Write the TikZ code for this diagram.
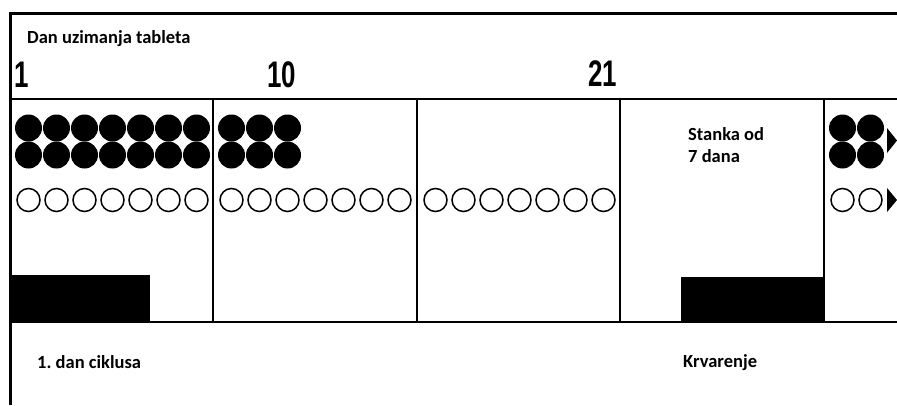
\documentclass[tikz,border=0pt]{standalone}
\usepackage{fontspec}
\setmainfont{Carlito}
\newfontfamily\digitfont{Liberation Sans}
\usetikzlibrary{positioning}
\frenchspacing
\tikzset{
  rule/.style={line width=2pt},
  frame/.style={line width=3pt},
  pill/.style={fill=black},
  openpill/.style={draw=black, line width=1.5pt, fill=white},
  caption/.style={font=\bfseries\fontsize{18.5}{22}\selectfont, anchor=base west, inner sep=0pt},
  daynum/.style={font=\digitfont\bfseries\fontsize{37}{40}\selectfont, anchor=base west, inner sep=0pt, xscale=0.7},
}

\begin{document}
\begin{tikzpicture}[x=1pt,y=-1pt]
  \useasboundingbox (0,0) rectangle (897,405);
  % frame and rows
  \draw[frame] (897,13) -- (10,13) -- (10,405);
  \draw[rule] (10,99) -- (897,99);
  \draw[rule] (10,322) -- (897,322);
  \foreach \x in {213,417,620,824}
    \draw[rule] (\x,99) -- (\x,322);
  % bleeding bars
  \fill (10,275) rectangle (150,322);
  \fill (681,277) rectangle (825,322);
  % active pills
  \foreach \s/\n in {10/6, 213/2, 824/1}
    \foreach \k in {0,...,\n} {
      \fill[pill] (\s+18.5+28*\k,128) circle (13.5pt);
      \fill[pill] (\s+18.5+28*\k,155) circle (13.5pt);
    }
  % placebo pills
  \foreach \s/\n in {10/6, 213/6, 417/6, 824/1}
    \foreach \k in {0,...,\n}
      \draw[openpill] (\s+18.5+28*\k,200) circle (11.5pt);
  % cut-off pills at the edge
  \fill (887,128) -- (897,140.5) -- (887,153) -- cycle;
  \fill (887,188) -- (897,200) -- (887,212) -- cycle;
  % labels
  \node[caption] (title) at (27,43) {Dan uzimanja tableta};
  \node[daynum] (day1) at (14,87) {1};
  \node[daynum] (day10) at (267,87) {10};
  \node[daynum] (day21) at (588,86) {21};
  \node[caption, align=left] (pause) at (688,162) {Stanka od\\7 dana};
  \node[caption] (cycle) at (37,368) {1. dan ciklusa};
  \node[caption] (bleed) at (683,367) {Krvarenje};
\end{tikzpicture}
\end{document}
